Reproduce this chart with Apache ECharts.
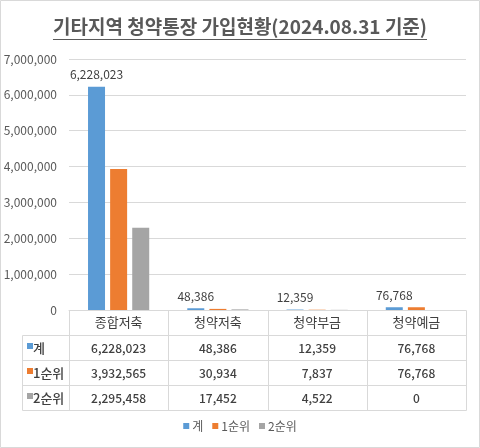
<!DOCTYPE html>
<html>
<head>
<meta charset="utf-8">
<script src="https://cdn.jsdelivr.net/npm/echarts@6/dist/echarts.min.js"></script>
<style>
html, body { margin: 0; padding: 0; background: #fff; }
#chart { width: 480px; height: 448px; }
</style>
</head>
<body>
<div id="chart"></div>
<script>
var titleText = '기타지역 청약통장 가입현황(2024.08.31 기준)';
var categories = ['종합저축', '청약저축', '청약부금', '청약예금'];
var seriesNames = ['계', '1순위', '2순위'];
var totalValues = [6228023, 48386, 12359, 76768];
var firstValues = [3932565, 30934, 7837, 76768];
var secondValues = [2295458, 17452, 4522, 0];
var yMax = 7000000;
var yStep = 1000000;

var colors = ['#5B9BD5', '#ED7D31', '#A5A5A5'];
var font = "'Noto Sans CJK KR', 'Noto Sans', sans-serif";
var allValues = [totalValues, firstValues, secondValues];

function fmt(v) {
    return Number(v).toLocaleString('en-US');
}

var chart = echarts.init(document.getElementById('chart'));

chart.setOption({
    animation: false,
    color: colors,
    textStyle: { fontFamily: font },
    grid: { left: 69, right: 14, top: 59, bottom: 138 },
    legend: {
        data: seriesNames,
        bottom: 11,
        left: 'center',
        icon: 'rect',
        itemWidth: 6,
        itemHeight: 6,
        itemGap: 9,
        textStyle: { color: '#595959', fontSize: 12, padding: [0, 0, 0, -2] }
    },
    xAxis: {
        type: 'category',
        data: categories,
        axisLine: { lineStyle: { color: '#d9d9d9' } },
        axisTick: { show: false },
        axisLabel: { color: '#404040', fontSize: 13, margin: 6 }
    },
    yAxis: {
        type: 'value',
        min: 0,
        max: yMax,
        interval: yStep,
        axisLine: { show: false },
        axisTick: { show: false },
        splitLine: { lineStyle: { color: '#d9d9d9' } },
        axisLabel: {
            color: '#595959',
            fontSize: 12,
            margin: 12,
            formatter: function (v) { return fmt(v); }
        }
    },
    series: [
        {
            name: seriesNames[0],
            type: 'bar',
            data: totalValues,
            barWidth: 17,
            barGap: '30%',
            label: {
                show: true,
                position: 'top',
                distance: 6,
                color: '#404040',
                fontSize: 12,
                formatter: function (p) { return fmt(p.value); }
            }
        },
        { name: seriesNames[1], type: 'bar', data: firstValues, barWidth: 17, barGap: '30%' },
        { name: seriesNames[2], type: 'bar', data: secondValues, barWidth: 17, barGap: '30%' }
    ]
});

// data table under the axis, placed from the axis scale
var y0 = chart.convertToPixel({ yAxisIndex: 0 }, 0);
var gridLeft = 69, gridRight = 480 - 14, tableLeft = 22, rowH = 25;
var bandW = (gridRight - gridLeft) / categories.length;
var lineStyle = { stroke: '#d9d9d9', lineWidth: 1 };
var g = [];

// chart border
g.push({ type: 'rect', shape: { x: 0.5, y: 0.5, width: 479, height: 447 }, style: { fill: null, stroke: '#d9d9d9', lineWidth: 1 }, silent: true });

// title with underline
var ctx = document.createElement('canvas').getContext('2d');
var titleFont = 'bold 19px ' + font;
ctx.font = titleFont;
var tw = ctx.measureText(titleText).width;
g.push({ type: 'text', x: 240, y: 27, style: { text: titleText, font: titleFont, fill: '#595959', textAlign: 'center', textVerticalAlign: 'middle' } });
g.push({ type: 'line', shape: { x1: 240 - tw / 2, y1: 39.5, x2: 240 + tw / 2, y2: 39.5 }, style: { stroke: '#595959', lineWidth: 1 } });

var yTop = Math.round(y0) + 0.5;
for (var r = 1; r <= 4; r++) {
    var yy = yTop + r * rowH;
    g.push({ type: 'line', shape: { x1: tableLeft + 0.5, y1: yy, x2: gridRight + 0.5, y2: yy }, style: lineStyle });
}
g.push({ type: 'line', shape: { x1: tableLeft + 0.5, y1: yTop + rowH, x2: tableLeft + 0.5, y2: yTop + 4 * rowH }, style: lineStyle });
for (var c = 0; c <= categories.length; c++) {
    var xx = Math.round(gridLeft + c * bandW) + 0.5;
    g.push({ type: 'line', shape: { x1: xx, y1: yTop, x2: xx, y2: yTop + 4 * rowH }, style: lineStyle });
}

for (var s = 0; s < seriesNames.length; s++) {
    var cy = yTop + (s + 1.5) * rowH;
    g.push({ type: 'rect', shape: { x: 27, y: cy - 5, width: 6, height: 6 }, style: { fill: colors[s] } });
    g.push({ type: 'text', x: 33, y: cy, style: { text: seriesNames[s], font: '500 13px ' + font, fill: '#404040', textAlign: 'left', textVerticalAlign: 'middle' } });
    for (var k = 0; k < categories.length; k++) {
        var cx = chart.convertToPixel({ xAxisIndex: 0 }, categories[k]);
        g.push({ type: 'text', x: cx, y: cy, style: { text: fmt(allValues[s][k]), font: '500 12px ' + font, fill: '#404040', textAlign: 'center', textVerticalAlign: 'middle' } });
    }
}

chart.setOption({ graphic: g });
</script>
</body>
</html>
